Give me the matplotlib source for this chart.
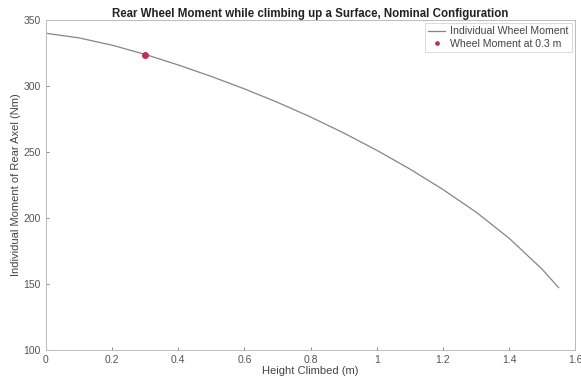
import matplotlib
matplotlib.use("Agg")
import matplotlib.pyplot as plt
import numpy as np

plt.rcParams['font.family'] = ['Liberation Sans', 'DejaVu Sans']

height = [0.0, 0.1, 0.2, 0.3, 0.4, 0.5, 0.6, 0.7, 0.8, 0.9, 1.0, 1.1, 1.2, 1.3, 1.4, 1.5, 1.55]
moment = [340, 336.5, 331, 324, 316, 307.3, 297.9, 287.7, 276.6, 264.5, 251.4, 237.2, 221.7,
          204.6, 184.8, 161.3, 147.3]
point_h = [0.3]
point_m = [323.5]

fig = plt.figure(figsize=(5.81, 3.86), dpi=100)
ax = fig.add_axes([0.079, 0.093, 0.911, 0.855])
ax.plot(height, moment, color='#858585', lw=0.9, label='Individual Wheel Moment')
ax.plot(point_h, point_m, linestyle='none', marker='o', ms=4, mfc='#c0305a', mec='#c0305a',
        label='Wheel Moment at 0.3 m')
ax.set_xlim(0, 1.6)
ax.set_ylim(100, 350)
ax.set_xticks(np.arange(0, 1.61, 0.2))
ax.set_xticklabels(['0', '0.2', '0.4', '0.6', '0.8', '1', '1.2', '1.4', '1.6'])
ax.set_yticks([100, 150, 200, 250, 300, 350])
for s in ax.spines.values():
    s.set_color('#bbbbbb')
    s.set_linewidth(0.7)
ax.tick_params(colors='#555555', labelsize=7.5, length=2.5, width=0.5, direction='in')
ax.set_xlabel('Height Climbed (m)', fontsize=8, color='#444444', labelpad=1)
ax.set_ylabel('Individual Moment of Rear Axel (Nm)', fontsize=8, color='#444444', labelpad=2)
ax.set_title('Rear Wheel Moment while climbing up a Surface, Nominal Configuration',
             fontsize=8.3, fontweight='bold', color='#222222', pad=2)
leg = ax.legend(loc='upper right', fontsize=7.6, frameon=True, fancybox=False,
                borderaxespad=0.3, handlelength=1.6, borderpad=0.3, labelspacing=0.25,
                labelcolor='#444444', markerscale=0.6, handletextpad=0.5)
leg.get_frame().set_edgecolor('#cccccc')
leg.get_frame().set_linewidth(0.6)
fig.savefig('out.png', dpi=100)
